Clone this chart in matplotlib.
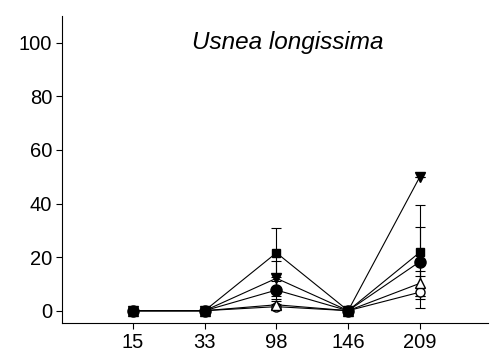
import matplotlib.pyplot as plt
import numpy as np

plt.rcParams['font.family'] = ['Liberation Sans', 'DejaVu Sans']

days = ['15', '33', '98', '146', '209']

# series values (%) and their error bars
down_tri = [0, 0, 12.1, 0, 50.0]
down_tri_err = [0, 0, 6.6, 0, 0]
square = [0, 0, 21.6, 0, 21.8]
square_err = [0, 0, 9.1, 0, 17.6]
open_tri = [0, 0, 2.2, 0, 10.2]
open_tri_err = [0, 0, 1.5, 0, 4.6]
open_circle = [0, 0, 1.5, 0, 6.9]
open_circle_err = [0, 0, 1.0, 0, 6.0]
circle = [0, 0, 7.7, 0, 18.3]
circle_err = [0, 0, 3.4, 0, 13.0]

x = np.arange(len(days))

fig = plt.figure(figsize=(4.9, 3.54), dpi=100)
ax = fig.add_axes([62/490, 31/354, 426/490, 307/354])

series = [
    (open_circle, open_circle_err, 'o', 'white', 6.5),
    (open_tri, open_tri_err, '^', 'white', 6.5),
    (down_tri, down_tri_err, 'v', 'black', 6.5),
    (square, square_err, 's', 'black', 5.5),
    (circle, circle_err, 'o', 'black', 8),
]
for vals, err, m, fc, ms in series:
    ax.errorbar(x, vals, yerr=err, color='black', marker=m, mfc=fc, mec='black',
                ms=ms, lw=0.8, elinewidth=0.8, capsize=3.5, capthick=0.8)

ax.set_xlim(-0.99, 4.95)
ax.set_ylim(-4.6, 110)
ax.set_xticks(x)
ax.set_xticklabels(days)
ax.set_yticks([0, 20, 40, 60, 80, 100])
ax.tick_params(direction='out', length=4, width=0.8, labelsize=14.5, pad=3)
ax.spines['top'].set_visible(False)
ax.spines['right'].set_visible(False)
ax.spines['left'].set_linewidth(0.8)
ax.spines['bottom'].set_linewidth(0.8)

ax.text(0.53, 0.915, 'Usnea longissima', transform=ax.transAxes, ha='center',
        va='center', fontsize=17.5, style='italic')

plt.savefig('out.png')
